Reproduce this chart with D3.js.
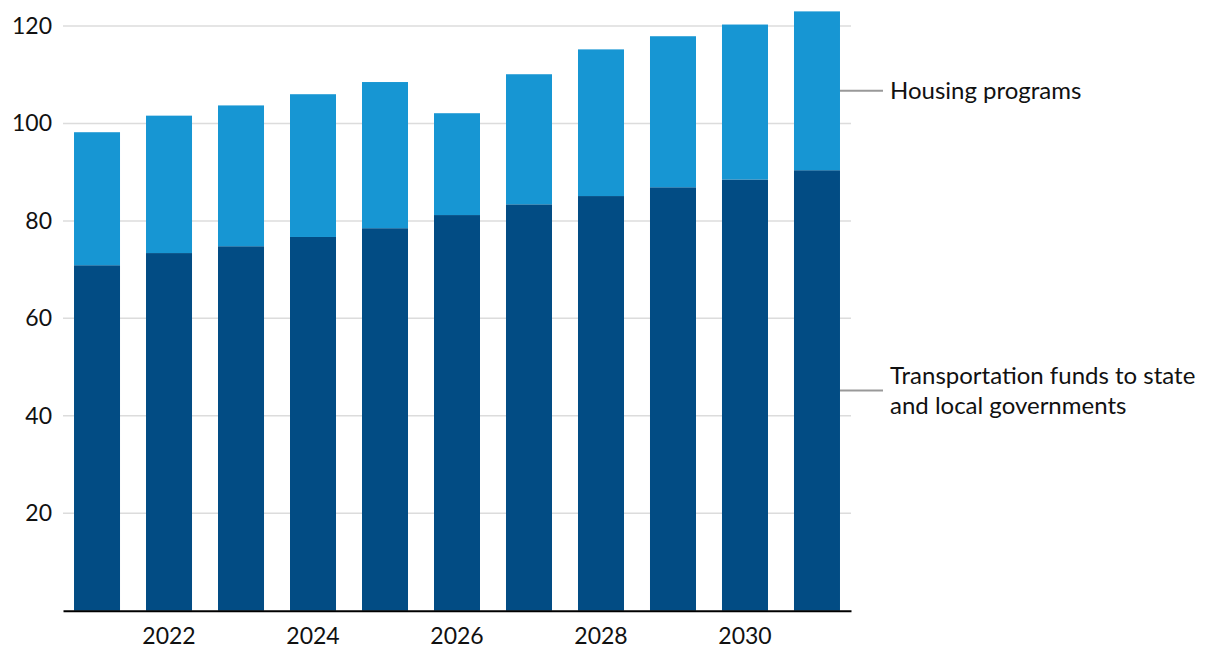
<!DOCTYPE html>
<html>
<head>
<meta charset="utf-8">
<script src="https://cdn.jsdelivr.net/npm/d3@7"></script>
<style>
  html, body { margin: 0; padding: 0; background: #fff; }
  svg { display: block; font-family: Lato, "Open Sans", sans-serif; }
</style>
</head>
<body>
<svg id="chart" width="1220" height="670"></svg>
<script>
const years = [2021, 2022, 2023, 2024, 2025, 2026, 2027, 2028, 2029, 2030, 2031];
const transportation = [70.9, 73.4, 74.8, 76.7, 78.5, 81.2, 83.4, 85.1, 86.9, 88.5, 90.4];
const housing = [27.3, 28.2, 28.9, 29.3, 30.0, 20.9, 26.7, 30.1, 31.0, 31.8, 32.6];
const yTicks = [20, 40, 60, 80, 100, 120];
const xTickYears = [2022, 2024, 2026, 2028, 2030];
const seriesNames = ["Transportation funds to state and local governments", "Housing programs"];
const seriesColors = ["#024c84", "#1796d3"];

(function () {
const svg = d3.select("#chart");
const mLeft = 63, mRight = 851, mTop = 26, mBottom = 610.7;

const x = d3.scaleBand().domain(years).range([mLeft, mRight])
  .paddingInner(26 / 72).paddingOuter(0.153);
const y = d3.scaleLinear().domain([0, 120]).range([mBottom, mTop]);

// gridlines
svg.append("g")
  .selectAll("line").data(yTicks).join("line")
  .attr("x1", mLeft).attr("x2", mRight)
  .attr("y1", d => y(d)).attr("y2", d => y(d))
  .attr("stroke", "#dcdcdc").attr("stroke-width", 1.5);

// y axis labels
const yAxis = d3.axisLeft(y).tickValues(yTicks).tickSize(0).tickPadding(11);
const yg = svg.append("g").attr("transform", `translate(${mLeft},0)`).call(yAxis);
yg.select(".domain").remove();
yg.selectAll("text").attr("font-size", 23).attr("fill", "#111")
  .attr("font-family", "Lato, sans-serif");

// stacked data
const rows = years.map((yr, i) => ({ year: yr, t: transportation[i], h: housing[i] }));
const stack = d3.stack().keys(["t", "h"])(rows);

svg.append("g").selectAll("g").data(stack).join("g")
  .attr("fill", (d, i) => seriesColors[i])
  .selectAll("rect").data(d => d).join("rect")
  .attr("x", d => x(d.data.year))
  .attr("width", x.bandwidth())
  .attr("y", d => y(d[1]))
  .attr("height", d => y(d[0]) - y(d[1]));

// x axis
const xAxis = d3.axisBottom(x).tickValues(xTickYears).tickSize(0).tickPadding(17);
const xg = svg.append("g").attr("transform", `translate(0,${mBottom})`).call(xAxis);
xg.select(".domain").attr("stroke", "#000").attr("stroke-width", 2);
xg.selectAll("text").attr("font-size", 23).attr("fill", "#111")
  .attr("font-family", "Lato, sans-serif");

// labels for last bar
const last = rows[rows.length - 1];
const lastX = x(last.year) + x.bandwidth();
const labelY = [y(last.t / 2), y(last.t + last.h / 2)];
const labelLines = [["Transportation funds to state", "and local governments"], ["Housing programs"]];

labelY.forEach((ly, i) => {
  svg.append("line")
    .attr("x1", lastX).attr("x2", lastX + 43)
    .attr("y1", ly).attr("y2", ly)
    .attr("stroke", "#999").attr("stroke-width", 2);
  const lines = labelLines[i];
  const t = svg.append("text")
    .attr("x", lastX + 50)
    .attr("font-size", 24).attr("fill", "#111")
    .attr("font-family", "Lato, sans-serif");
  const y0 = lines.length === 1 ? ly + 8 : ly - 6;
  lines.forEach((ln, j) => {
    t.append("tspan").attr("x", lastX + 50).attr("y", y0 + j * 30).text(ln);
  });
});
})();
</script>
</body>
</html>
